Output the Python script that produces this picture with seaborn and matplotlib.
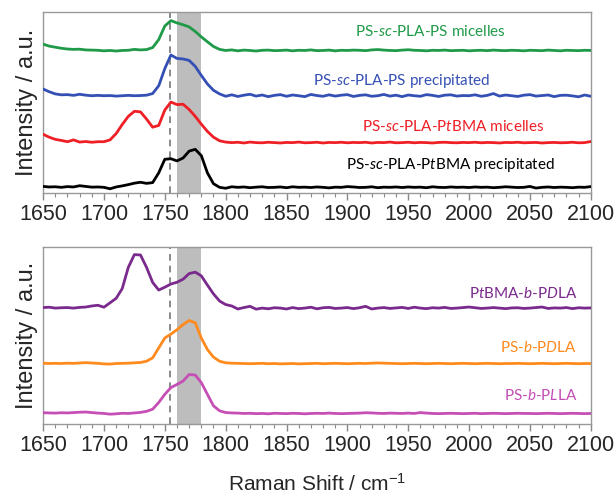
import numpy as np
import pandas as pd
import matplotlib
matplotlib.use('Agg')
import matplotlib.pyplot as plt
import seaborn as sns
from matplotlib.ticker import MultipleLocator

sns.set_style('white')
plt.rcParams['font.family'] = ['Liberation Sans', 'DejaVu Sans']
plt.rcParams['mathtext.fontset'] = 'custom'
plt.rcParams['mathtext.rm'] = 'Liberation Sans'
plt.rcParams['mathtext.it'] = 'Lato:italic'

# Raman shift grid (cm-1)
shift = np.arange(1650, 2101, 5)

# intensities relative to each trace's baseline (a.u.)
ps_sc_ps_mic = [3.5, 2.4, 1.8, 1.2, 0.8, 0.6, 0.7, 0.3, 0.2, 0.1,
                -0.2, 0.0, -0.3, 0.0, 0.1, 0.6, 0.3, 0.5, 1.6, 6.0,
                13.5, 16.5, 15.2, 14.2, 13.0, 10.5, 7.5, 4.8, 2.2, 0.6,
                0.0, 0.3, -0.2, 0.2, 0.0, -0.3, 0.1, 0.2, -0.1, 0.0,
                0.2, -0.2, 0.1, 0.0, 0.3, -0.1, 0.0, 0.2, -0.2, 0.1,
                0.0, 0.2, 0.1, -0.1, 0.3, 0.5, 0.2, 0.0, -0.1, 0.2,
                0.4, 0.1, 0.0, -0.2, 0.1, 0.0, 0.2, -0.1, 0.0, 0.1,
                -0.2, 0.0, 0.1, -0.1, 0.2, 0.0, -0.1, 0.1, 0.0, -0.2,
                0.1, 0.0, -0.1, 0.2, 0.0, -0.2, 0.1, 0.0, -0.1, 0.1,
                0.0]
ps_sc_ps_pre = [3.7, 2.2, 1.0, 0.5, 0.6, 0.2, 0.8, 0.3, 0.0, 0.2,
                0.0, 0.1, -0.2, 0.0, 0.2, 0.0, 0.1, 0.3, 1.2, 5.5,
                15.0, 22.5, 20.6, 20.3, 19.5, 16.2, 11.2, 6.5, 3.0, 1.0,
                -0.3, 0.5, -0.4, 0.3, 0.8, -0.2, 0.4, -0.5, 0.2, 0.6,
                -0.3, 0.4, 0.0, -0.5, 0.7, 0.1, -0.3, 0.5, -0.2, 0.3,
                0.6, -0.4, 0.2, 0.5, -0.3, 0.0, 0.7, -0.2, 0.3, -0.5,
                0.4, 0.0, -0.3, 0.6, 0.2, -0.4, 0.3, 0.5, -0.2, 0.1,
                0.0, 0.5, -0.3, 0.2, 1.2, -0.2, 0.4, 0.0, -0.4, 0.3,
                0.6, -0.2, 0.1, 0.4, -0.5, 0.2, 0.3, -0.1, -0.6, 0.4,
                -0.3]
ps_sc_tb_mic = [4.6, 3.0, 1.8, 1.2, 0.5, 1.5, 0.3, 0.6, 0.2, 0.5,
                0.5, 1.5, 5.0, 10.0, 14.5, 17.3, 17.0, 13.0, 8.5, 9.5,
                18.0, 22.4, 21.0, 21.2, 18.3, 14.5, 10.2, 6.2, 3.0, 1.0,
                0.3, 0.0, 0.2, -0.2, 0.3, 0.0, -0.1, 0.2, 0.0, -0.2,
                0.1, 0.0, 0.3, -0.1, 0.0, 0.2, -0.2, 0.1, 0.0, 0.2,
                -0.1, 0.1, 0.0, 0.2, -0.2, 0.1, 0.0, 0.3, -0.1, 0.0,
                0.2, -0.1, 0.1, 0.0, -0.2, 0.1, 0.2, 0.0, -0.1, 0.1,
                0.0, 0.2, -0.1, 0.1, 0.0, -0.2, 0.1, 0.0, 0.2, -0.1,
                0.0, 0.1, -0.2, 0.0, 0.1, -0.1, 0.0, 0.2, -0.1, 0.0,
                0.6]
ps_sc_tb_pre = [0.5, 0.2, 0.3, 0.0, 0.4, 0.2, 0.9, 0.5, 0.1, 0.2,
                0.0, -0.8, 0.2, 0.8, 1.5, 2.3, 2.8, 2.2, 2.6, 8.0,
                15.5, 15.8, 14.6, 16.2, 20.0, 21.0, 17.5, 8.0, 2.0, 0.0,
                -0.5, 0.3, 0.0, 0.2, -0.2, 0.1, 0.3, -0.1, 0.0, 0.2,
                -0.2, 0.3, 0.0, 0.1, -0.1, 0.2, 0.0, -0.3, 0.1, 0.0,
                0.4, 0.2, -0.1, 0.0, 0.3, -0.2, 0.1, 0.0, 0.2, -0.1,
                0.2, 0.0, 0.1, -0.2, 0.3, 0.0, -0.1, 0.2, 0.0, 0.1,
                -0.1, 0.2, 0.0, 0.1, -0.2, 0.0, 0.3, 0.1, -0.1, 0.0,
                0.5, -0.4, 0.0, 0.2, -0.1, 0.1, 0.0, -0.2, 0.1, 0.0,
                0.4]
tb_b_pdla = [0.3, 0.5, 0.0, 0.2, 0.3, 0.0, 0.4, 0.6, 1.2, 1.6,
             0.5, 3.0, 5.5, 11.0, 23.0, 30.2, 30.0, 23.0, 14.5, 10.2,
             11.8, 13.6, 14.6, 16.3, 19.5, 20.3, 18.2, 13.0, 8.0, 4.0,
             2.0, 1.2, -0.5, 0.3, 1.0, -0.6, 0.0, -0.4, 0.2, 0.0,
             -0.5, 0.3, -0.3, 0.0, 0.5, -0.4, 0.2, 0.4, -0.2, 0.0,
             0.3, -0.3, 0.2, 1.0, -0.5, 0.0, 0.3, -0.2, 0.1, 0.4,
             -0.2, 0.5, 0.0, -0.3, 0.2, 0.0, 0.4, -0.2, 0.0, 0.3,
             0.6, 0.2, -0.2, 0.0, 0.3, 0.0, -0.3, 0.1, 0.2, -0.2,
             0.0, 0.3, 0.6, -0.2, 0.1, 0.0, 0.3, -0.3, 0.2, 0.0,
             0.1]
ps_b_pdla = [0.2, 0.0, 0.1, 0.0, 0.2, 0.1, 0.3, 0.5, 0.3, 0.1,
             -0.2, -0.3, 0.0, 0.1, 0.2, 0.4, 0.6, 1.3, 3.2, 8.8,
             14.4, 16.6, 19.1, 22.0, 24.3, 23.0, 14.4, 7.9, 3.6, 1.3,
             0.4, 0.2, 0.1, 0.0, -0.1, 0.0, 0.1, -0.1, 0.0, -0.2,
             -0.1, 0.0, -0.2, -0.1, 0.0, 0.1, -0.1, 0.0, 0.1, 0.0,
             -0.1, 0.0, 0.1, 0.0, 0.2, 0.3, 0.2, 0.1, 0.0, -0.1,
             0.0, 0.1, 0.0, -0.1, 0.0, 0.1, 0.0, -0.1, 0.0, 0.1,
             0.0, -0.1, 0.0, 0.1, 0.0, -0.1, 0.0, 0.0, 0.1, 0.0,
             -0.1, 0.0, 0.1, 0.0, -0.1, 0.0, 0.1, 0.0, -0.1, 0.0,
             0.0]
ps_b_plla = [0.4, 0.3, 0.2, 0.4, 0.3, 0.5, 0.7, 0.8, 0.5, 0.2,
             0.0, -0.4, -0.2, 0.1, 0.0, 0.3, 0.6, 1.2, 2.4, 6.2,
             10.8, 14.6, 16.4, 18.3, 22.0, 21.7, 17.4, 10.8, 4.3, 1.5,
             0.5, 0.3, 0.2, 0.0, 0.1, -0.1, 0.0, -0.2, 0.1, 0.0,
             -0.1, 0.1, 0.0, -0.2, 0.0, 0.1, 0.0, 0.2, 0.0, -0.1,
             0.0, 0.1, 0.2, 0.4, 0.3, 0.1, 0.0, 0.2, 0.1, 0.0,
             0.2, 0.0, 0.5, 0.2, 0.0, -0.1, 0.0, 0.1, 0.0, -0.1,
             0.0, 0.1, -0.1, 0.0, 0.1, 0.0, -0.1, 0.0, 0.1, 0.0,
             0.0, -0.1, 0.0, 0.1, 0.0, -0.1, 0.0, 0.1, 0.0, -0.1,
             0.0]

top_names = ['PS-$\\it{sc}$-PLA-PS micelles', 'PS-$\\it{sc}$-PLA-PS precipitated',
             'PS-$\\it{sc}$-PLA-P$\\it{t}$BMA micelles', 'PS-$\\it{sc}$-PLA-P$\\it{t}$BMA precipitated']
top_series = [ps_sc_ps_mic, ps_sc_ps_pre, ps_sc_tb_mic, ps_sc_tb_pre]
top_offsets = [78.7, 53.7, 27.8, 3.1]
top_colors = ['#1f9a48', '#3550b4', '#ef1f26', '#000000']
top_label_pos = [(1968, 88.9), (1945, 61.7), (1987, 36.5), (1985, 15.4)]

bot_names = ['P$\\it{t}$BMA-$\\it{b}$-P$\\it{D}$LA', 'PS-$\\it{b}$-P$\\it{D}$LA', 'PS-$\\it{b}$-P$\\it{L}$LA']
bot_series = [tb_b_pdla, ps_b_pdla, ps_b_plla]
bot_offsets = [65.5, 34.2, 6.0]
bot_colors = ['#7a2a8c', '#ff8a1e', '#c54fb4']
bot_label_pos = [(2089, 73.8), (2089, 43.0), (2089, 15.9)]

fig = plt.figure(figsize=(6.16, 4.96), dpi=100)
ax1 = fig.add_axes([0.070, 0.611, 0.889, 0.365])
ax2 = fig.add_axes([0.070, 0.145, 0.889, 0.357])


def style_axis(ax):
    ax.axvspan(1760, 1780, color='#bdbdbd', lw=0, zorder=0)
    ax.axvline(1754, color='#777777', lw=1.2, ls=(0, (4, 3)), zorder=1)
    ax.set_xlim(1650, 2100)
    ax.set_ylim(0, 100)
    ax.set_yticks([])
    ax.xaxis.set_major_locator(MultipleLocator(50))
    ax.xaxis.set_minor_locator(MultipleLocator(10))
    ax.tick_params(axis='x', which='major', direction='out', length=5, width=1,
                   color='#888888', labelsize=15.5, pad=3, bottom=True)
    ax.tick_params(axis='x', which='minor', direction='out', length=3, width=0.8,
                   color='#888888', bottom=True)
    for sp in ax.spines.values():
        sp.set_color('#999999')
        sp.set_linewidth(1)
    ax.set_ylabel('Intensity / a.u.', fontsize=17, labelpad=4)
    ax.set_xlabel('')


for name, vals, off, col, pos in zip(top_names, top_series, top_offsets, top_colors, top_label_pos):
    df = pd.DataFrame({'shift': shift, 'intensity': np.array(vals) + off})
    sns.lineplot(data=df, x='shift', y='intensity', ax=ax1, color=col, lw=2.0, zorder=3)
    ax1.text(pos[0], pos[1], name, color=col, fontsize=11, ha='center', va='center',
             family=['Lato', 'DejaVu Sans'])

for name, vals, off, col, pos in zip(bot_names, bot_series, bot_offsets, bot_colors, bot_label_pos):
    df = pd.DataFrame({'shift': shift, 'intensity': np.array(vals) + off})
    sns.lineplot(data=df, x='shift', y='intensity', ax=ax2, color=col, lw=2.0, zorder=3)
    ax2.text(pos[0], pos[1], name, color=col, fontsize=11, ha='right', va='center',
             family=['Lato', 'DejaVu Sans'])

style_axis(ax1)
style_axis(ax2)
ax2.set_xlabel('Raman Shift / cm$^{-1}$', fontsize=15, labelpad=12)

fig.savefig('out.png', dpi=100)
